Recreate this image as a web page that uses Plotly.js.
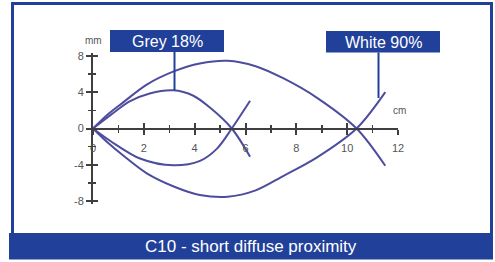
<!DOCTYPE html>
<html>
<head>
<meta charset="utf-8">
<script src="https://cdn.plot.ly/plotly-3.0.1.min.js"></script>
<style>
html,body{margin:0;padding:0;background:#fff;}
#chart{width:495px;height:262px;}
</style>
</head>
<body>
<div id="chart"></div>
<script>
// ---- data (cm on x, mm on y) ----
const whiteUpperX = [0, 0.6, 1.2, 2.1, 3.2, 4.2, 5.3, 6.4, 7.5, 8.8, 10.37, 11.5];
const whiteUpperY = [0, 1.6, 2.9, 4.8, 6.3, 7.15, 7.45, 6.85, 5.5, 3.4, 0, -4.1];
const whiteLowerX = [0, 0.6, 1.2, 2.1, 3.2, 4.2, 5.3, 6.4, 7.5, 8.8, 10.37, 11.5];
const whiteLowerY = [0, -1.6, -3.0, -4.9, -6.4, -7.3, -7.5, -6.8, -5.2, -3.2, 0, 4.0];
const greyUpperX = [0, 0.7, 1.46, 2.23, 3.16, 3.95, 4.6, 5.46, 6.18];
const greyUpperY = [0, 1.5, 3.0, 3.85, 4.2, 3.6, 2.3, 0, -3.1];
const greyLowerX = [0, 0.7, 1.85, 3.16, 4.21, 4.87, 5.46, 6.18];
const greyLowerY = [0, -1.4, -3.3, -4.05, -3.56, -2.24, 0, 3.05];
const xTickVals = [0, 2, 4, 6, 8, 10, 12];
const xTickText = ['0', '2', '4', '6', '8', '10', '12'];
const yTickVals = [-8, -4, 0, 4, 8];
const yTickText = ['-8', '-4', '0', '4', '8'];
const seriesLabels = ['Grey 18%', 'White 90%'];
const chartTitle = 'C10 - short diffuse proximity';

// ---- layout helpers ----
const L = 93, T = 53, W = 305, H = 151, FW = 495, FH = 262;
const px = p => (p - L) / W;
const py = p => (T + H - p) / H;
const BLUE = '#21409a';
const CURVE = '#4d4d9e';
const AX = '#3f3f3f';
const FONT = 'Liberation Sans, Arial, sans-serif';

const curve = (x, y, name) => ({
  x: x, y: y, name: name, type: 'scatter', mode: 'lines',
  line: {color: CURVE, width: 2, shape: 'spline', smoothing: 0.9},
  hoverinfo: 'skip', cliponaxis: false
});

const data = [
  curve(whiteUpperX, whiteUpperY, seriesLabels[1]),
  curve(whiteLowerX, whiteLowerY, seriesLabels[1]),
  curve(greyUpperX, greyUpperY, seriesLabels[0]),
  curve(greyLowerX, greyLowerY, seriesLabels[0])
];

const xBase = {
  range: [0, 12], showgrid: false, zeroline: false,
  showline: true, linecolor: AX, linewidth: 2,
  anchor: 'free', position: 0.5,
  tickvals: xTickVals, ticktext: xTickText,
  ticklen: 5, tickwidth: 2, tickcolor: AX,
  minor: {dtick: 1, ticklen: 3, tickwidth: 1.5, tickcolor: AX, ticks: 'outside'},
  fixedrange: true
};
const yBase = {
  range: [-8.3, 8.3], showgrid: false, zeroline: false,
  showline: true, linecolor: AX, linewidth: 2,
  tickvals: yTickVals, ticktext: yTickText,
  ticklen: 5, tickwidth: 2, tickcolor: AX,
  minor: {dtick: 2, ticklen: 3, tickwidth: 1.5, tickcolor: AX, ticks: 'outside'},
  fixedrange: true
};

const layout = {
  width: FW, height: FH,
  margin: {l: L, r: FW - L - W, t: T, b: FH - T - H, pad: 0},
  paper_bgcolor: '#ffffff', plot_bgcolor: 'rgba(0,0,0,0)',
  showlegend: false,
  xaxis: Object.assign({}, xBase, {
    ticks: 'outside', showticklabels: true, ticklabelstandoff: 4,
    tickfont: {family: FONT, size: 11, color: '#555555'}
  }),
  xaxis2: Object.assign({}, xBase, {
    overlaying: 'x', ticks: 'inside', showticklabels: false,
    minor: Object.assign({}, xBase.minor, {ticks: 'inside'})
  }),
  yaxis: Object.assign({}, yBase, {
    ticks: 'outside', showticklabels: true,
    tickfont: {family: FONT, size: 11, color: '#555555'}
  }),
  yaxis2: Object.assign({}, yBase, {
    overlaying: 'y', anchor: 'x', ticks: 'inside', showticklabels: false,
    minor: Object.assign({}, yBase.minor, {ticks: 'inside'})
  }),
  shapes: [
    {type: 'rect', xref: 'paper', yref: 'paper', x0: px(12.5), x1: px(491.5), y0: py(240), y1: py(3.5),
     line: {color: BLUE, width: 3}, fillcolor: 'rgba(0,0,0,0)', layer: 'below'},
    {type: 'rect', xref: 'paper', yref: 'paper', x0: px(9), x1: px(493), y0: py(259.5), y1: py(233),
     line: {width: 0}, fillcolor: BLUE},
    {type: 'rect', xref: 'paper', yref: 'paper', x0: px(110), x1: px(224), y0: py(52), y1: py(30),
     line: {width: 0}, fillcolor: BLUE},
    {type: 'rect', xref: 'paper', yref: 'paper', x0: px(326), x1: px(440), y0: py(52.5), y1: py(31),
     line: {width: 0}, fillcolor: BLUE},
    {type: 'line', xref: 'paper', yref: 'paper', x0: px(174.5), x1: px(174.5), y0: py(52), y1: py(90),
     line: {color: BLUE, width: 2}},
    {type: 'line', xref: 'paper', yref: 'paper', x0: px(378.5), x1: px(378.5), y0: py(52.5), y1: py(98),
     line: {color: BLUE, width: 2}}
  ],
  annotations: [
    {xref: 'paper', yref: 'paper', x: px(167), y: py(41.5), text: seriesLabels[0], showarrow: false,
     xanchor: 'center', yanchor: 'middle', font: {family: FONT, size: 16, color: '#ffffff'}},
    {xref: 'paper', yref: 'paper', x: px(383), y: py(42), text: seriesLabels[1], showarrow: false,
     xanchor: 'center', yanchor: 'middle', font: {family: FONT, size: 16, color: '#ffffff'}},
    {xref: 'paper', yref: 'paper', x: px(251), y: py(246.5), text: chartTitle, showarrow: false,
     xanchor: 'center', yanchor: 'middle', font: {family: FONT, size: 17, color: '#ffffff'}},
    {xref: 'paper', yref: 'paper', x: px(93), y: py(40), text: 'mm', showarrow: false,
     xanchor: 'center', yanchor: 'middle', font: {family: FONT, size: 10, color: '#555555'}},
    {xref: 'paper', yref: 'paper', x: px(399), y: py(110), text: 'cm', showarrow: false,
     xanchor: 'center', yanchor: 'middle', font: {family: FONT, size: 10, color: '#555555'}}
  ]
};

// overlay traces for inside ticks
data.push({x: [0], y: [0], xaxis: 'x2', yaxis: 'y2', type: 'scatter', mode: 'markers',
           marker: {opacity: 0}, hoverinfo: 'skip'});

Plotly.newPlot('chart', data, layout, {displayModeBar: false, staticPlot: true});
</script>
</body>
</html>
